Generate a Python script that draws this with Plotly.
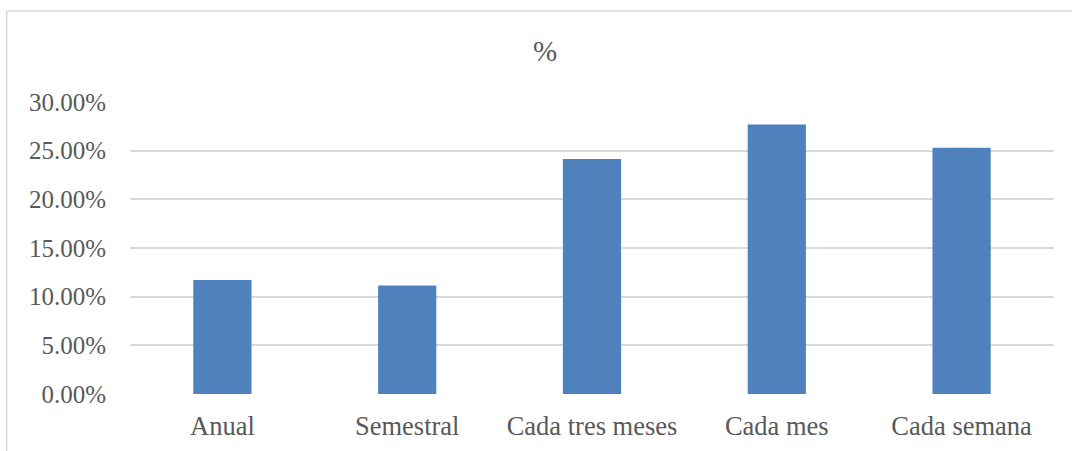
import plotly.graph_objects as go

categories = ["Anual", "Semestral", "Cada tres meses", "Cada mes", "Cada semana"]
values = [0.1172, 0.1114, 0.2414, 0.2769, 0.2531]
tick_values = [0, 0.05, 0.10, 0.15, 0.20, 0.25, 0.30]
title_text = "%"

W, H = 1072, 451
L, R = 129.5, 1054.5
T, B = 102.0, 394.3
pw, ph = R - L, B - T

fig = go.Figure(go.Bar(
    x=categories, y=values,
    marker=dict(color="#4F81BD", line=dict(width=0)),
    width=0.315,
))

font_family = "Liberation Serif, Times New Roman, serif"
fig.update_layout(
    width=W, height=H,
    margin=dict(l=L, r=W - R, t=T, b=H - B, pad=0, autoexpand=False),
    paper_bgcolor="white", plot_bgcolor="white",
    showlegend=False,
    font=dict(family=font_family, color="#595959", size=25),
    title=dict(text=title_text, x=545 / W, xref="container", xanchor="center",
               y=1 - 51 / H, yref="container", yanchor="middle",
               font=dict(family=font_family, size=29, color="#595959")),
    xaxis=dict(showgrid=False, showline=False, zeroline=False, ticks="",
               automargin=False,
               tickfont=dict(size=26.5, color="#595959"), ticklabelstandoff=13),
    yaxis=dict(range=[0, 0.30], tickvals=tick_values, tickformat=".2%",
               showgrid=True, gridcolor="#d9d9d9", gridwidth=1.5,
               zeroline=False, showline=False, ticks="", automargin=False,
               tickfont=dict(size=25, color="#595959"), ticklabelstandoff=23),
    shapes=[
        dict(type="line", xref="paper", yref="paper",
             x0=(6 - L) / pw, x1=(6 - L) / pw, y0=(B - 11) / ph, y1=(B - 470) / ph,
             line=dict(color="#d9d9d9", width=1.5)),
        dict(type="line", xref="paper", yref="paper",
             x0=(6 - L) / pw, x1=(1100 - L) / pw, y0=(B - 11) / ph, y1=(B - 11) / ph,
             line=dict(color="#d9d9d9", width=1.5)),
    ],
)

fig.write_html("out.html", config={"displayModeBar": False},
               post_script="document.body.style.margin='0';document.body.style.overflow='hidden';")
